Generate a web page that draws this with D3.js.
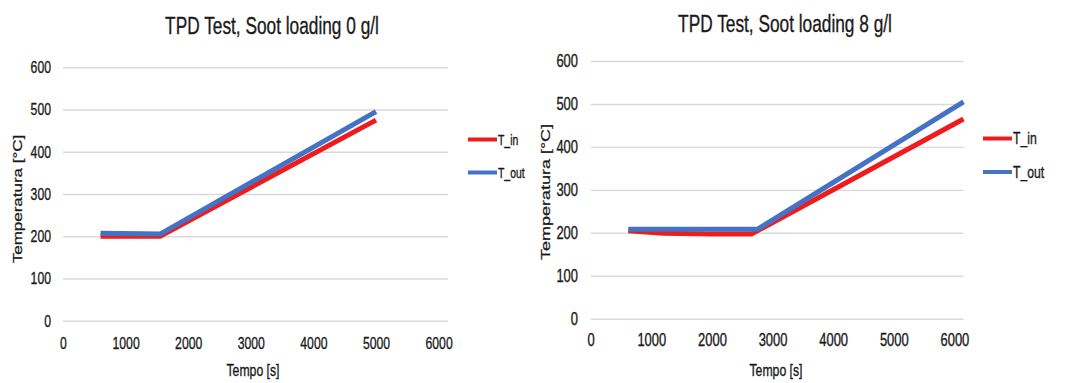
<!DOCTYPE html>
<html>
<head>
<meta charset="utf-8">
<script src="https://cdn.jsdelivr.net/npm/d3@7"></script>
<style>
  body { margin: 0; background: #fff; }
  svg { display: block; font-family: "Liberation Sans", Arial, sans-serif; }
  svg text { stroke: #1a1a1a; stroke-width: 0.35px; fill: #1a1a1a; }
</style>
</head>
<body>
<script>
// data
const xTicks = [0, 1000, 2000, 3000, 4000, 5000, 6000]
const yTicks = [0, 100, 200, 300, 400, 500, 600]
const seriesNames = ["T_in", "T_out"]

// Soot loading 0 g/l
const time0In = [600, 1550, 5000]
const temp0In = [200, 200, 475]
const time0Out = [600, 1550, 5000]
const temp0Out = [207, 205, 495]

// Soot loading 8 g/l
const time8In = [620, 1200, 2000, 2650, 6150]
const temp8In = [205, 199, 197, 197, 465]
const time8Out = [620, 2750, 6150]
const temp8Out = [208, 208, 505]

const colors = ["#ee1c1c", "#4472c4"]
const SX = 0.72 // the picture is squeezed horizontally, so is the text

const svg = d3.select("body").append("svg")
  .attr("width", 1065)
  .attr("height", 383)

function zip(t, v) { return t.map((d, i) => ({ t: d, v: v[i] })) }

function drawChart(cfg) {
  const x = d3.scaleLinear().domain([0, 6150]).range([cfg.left, cfg.right])
  const y = d3.scaleLinear().domain([0, 600]).range([cfg.bottom, cfg.top])
  const g = svg.append("g")

  // title
  g.append("text")
    .attr("transform", `translate(${cfg.titleX},${cfg.titleY}) scale(${SX},1)`)
    .attr("text-anchor", "middle")
    .attr("font-size", 24)
    .text(cfg.title)

  // y axis + gridlines
  const pad = cfg.left - cfg.yLabelRight
  g.append("g")
    .attr("transform", `translate(${cfg.left},0)`)
    .call(d3.axisLeft(y).tickValues(yTicks).tickFormat(d3.format("d"))
      .tickSize(-(cfg.right - cfg.left)).tickPadding(pad))
    .call(a => a.select(".domain").remove())
    .call(a => a.selectAll(".tick line").attr("stroke", "#d9d9d9").attr("stroke-width", 1.4))
    .call(a => a.selectAll(".tick text")
      .attr("x", -pad / SX)
      .attr("transform", `scale(${SX},1)`)
      .attr("font-size", cfg.tickFont))

  // x axis
  g.append("g")
    .attr("transform", `translate(0,${cfg.bottom})`)
    .call(d3.axisBottom(x).tickValues(xTicks).tickFormat(d3.format("d"))
      .tickSize(0).tickPadding(cfg.xPad))
    .call(a => a.select(".domain").remove())
    .call(a => a.selectAll(".tick text")
      .attr("transform", `scale(${SX},1)`)
      .attr("font-size", cfg.tickFont))

  // axis titles
  g.append("text")
    .attr("transform", `translate(${cfg.xTitleX},${cfg.xTitleY}) scale(${SX},1)`)
    .attr("text-anchor", "middle")
    .attr("font-size", 17)
    .text("Tempo [s]")

  g.append("text")
    .attr("transform", `translate(${cfg.yTitleX},${cfg.yTitleY}) scale(${SX},1) rotate(-90)`)
    .attr("text-anchor", "middle")
    .attr("dy", "0.35em")
    .attr("font-size", cfg.yTitleFont)
    .text("Temperatura [°C]")

  // lines
  const line = d3.line().x(d => x(d.t)).y(d => y(d.v))
  cfg.series.forEach((s, i) => {
    g.append("path")
      .datum(s)
      .attr("fill", "none")
      .attr("stroke", colors[i])
      .attr("stroke-width", 5)
      .attr("stroke-linejoin", "round")
      .attr("d", line)
  })

  // legend
  seriesNames.forEach((name, i) => {
    const ly = cfg.legendY + i * cfg.legendGap
    g.append("line")
      .attr("x1", cfg.legendX).attr("x2", cfg.legendX + 29)
      .attr("y1", ly).attr("y2", ly)
      .attr("stroke", colors[i])
      .attr("stroke-width", 4)
    g.append("text")
      .attr("transform", `translate(${cfg.legendX + 30},${ly}) scale(${SX},1)`)
      .attr("dy", "0.35em")
      .attr("font-size", cfg.legendFont)
      .text(name)
  })
}

drawChart({
  title: "TPD Test, Soot loading 0 g/l",
  left: 63, right: 448, top: 67.3, bottom: 320.7,
  yLabelRight: 51, xPad: 16, tickFont: 17,
  titleX: 272, titleY: 34,
  xTitleX: 253, xTitleY: 376,
  yTitleX: 18, yTitleY: 199, yTitleFont: 17,
  legendX: 468, legendY: 139.5, legendGap: 33, legendFont: 14.5,
  series: [zip(time0In, temp0In), zip(time0Out, temp0Out)]
})

drawChart({
  title: "TPD Test, Soot loading 8 g/l",
  left: 590.7, right: 963.5, top: 61, bottom: 318.7,
  yLabelRight: 578, xPad: 14.5, tickFont: 18,
  titleX: 785, titleY: 32,
  xTitleX: 776, xTitleY: 376,
  yTitleX: 545, yTitleY: 192, yTitleFont: 18,
  legendX: 983, legendY: 138.5, legendGap: 33.5, legendFont: 17,
  series: [zip(time8In, temp8In), zip(time8Out, temp8Out)]
})
</script>
</body>
</html>
